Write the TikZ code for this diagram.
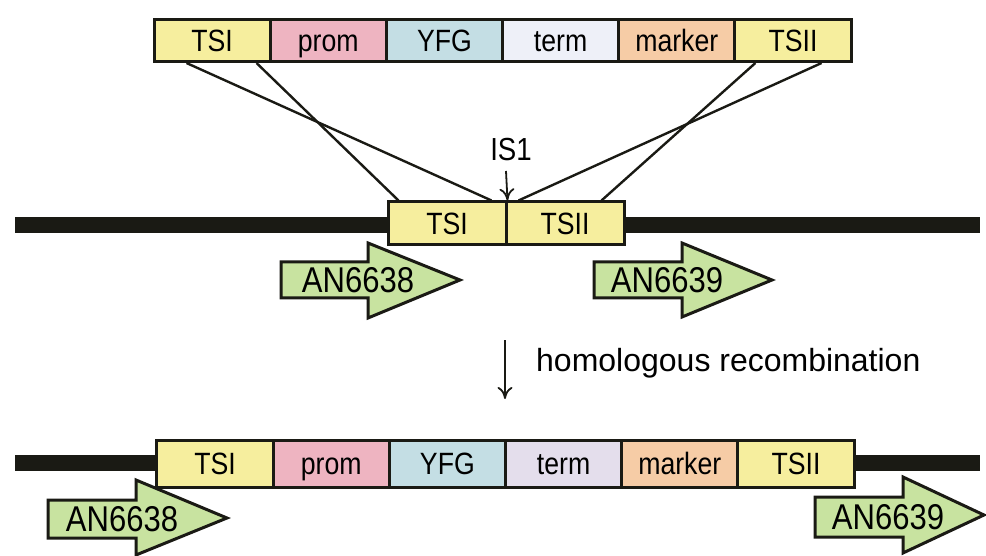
\documentclass[tikz,border=0pt]{standalone}
\usepackage{fontspec}
\usepackage{graphicx}
\setmainfont{Liberation Sans}
\usetikzlibrary{calc,arrows.meta}

\definecolor{tsicol}{HTML}{F6EE9E}
\definecolor{promcol}{HTML}{EEB4C1}
\definecolor{yfgcol}{HTML}{C4DEE4}
\definecolor{termcol}{HTML}{EEF0F8}
\definecolor{termcolb}{HTML}{E4DEEC}
\definecolor{markcol}{HTML}{F6CCA6}
\definecolor{genecol}{HTML}{C8E3A0}
\definecolor{dnacol}{HTML}{1A1A14}

% slightly tall lettering
\newcommand{\tall}[1]{\scalebox{0.97}[1.12]{#1}}

\tikzset{
  seg/.style={draw=dnacol, line width=3pt, minimum width=116.2pt, minimum height=42pt,
              inner sep=0pt, text height=22pt, text depth=0pt,
              font=\fontsize{27.5}{27.5}\selectfont},
  gene/.style={draw=dnacol, fill=genecol, line width=3pt, line join=miter},
  genetext/.style={font=\fontsize{32}{32}\selectfont, inner sep=0pt, text height=25pt, text depth=0pt},
  dna/.style={fill=dnacol},
  cross/.style={draw=dnacol, line width=2.4pt},
  pointer/.style={draw=dnacol, line width=1.8pt, -{To[length=12pt,width=15pt]}},
}

\begin{document}
\begin{tikzpicture}[x=1pt, y=-1pt]
\useasboundingbox (0,0) rectangle (986,556);

% ---- insertion cassette ----
\node[seg, fill=tsicol]  (t1) at (212.1,40.5) {\tall{TSI}};
\node[seg, fill=promcol] (t2) at (328.3,40.5) {\tall{prom}};
\node[seg, fill=yfgcol]  (t3) at (444.5,40.5) {\tall{YFG}};
\node[seg, fill=termcol] (t4) at (560.6,40.5) {\tall{term}};
\node[seg, fill=markcol] (t5) at (676.8,40.5) {\tall{marker}};
\node[seg, fill=tsicol]  (t6) at (793.0,40.5) {\tall{TSII}};

% ---- target locus ----
\fill[dna] (15,217) rectangle (980,233);
\node[seg, fill=tsicol, minimum width=118pt, minimum height=43pt] (m1) at (447,223.5) {\tall{TSI}};
\node[seg, fill=tsicol, minimum width=118pt, minimum height=43pt] (m2) at (565,223.5) {\tall{TSII}};

% crossover lines between cassette and locus
\draw[cross] ([xshift=34pt]t1.south west) -- ([xshift=-16pt]m1.north east);
\draw[cross] ([xshift=104pt]t1.south west) -- ([xshift=12pt]m1.north west);
\draw[cross] ([xshift=22pt]t6.south west) -- ([xshift=-24pt]m2.north east);
\draw[cross] ([xshift=-31pt]t6.south east) -- ([xshift=14pt]m2.north west);

% insertion site
\node[font=\fontsize{28.5}{28.5}\selectfont, inner sep=0pt] (is1) at (511,150) {\tall{IS1}};
\coordinate (istop) at (506,171);
\draw[pointer] (istop) -- (m1.north east);

% genes flanking the locus
\draw[gene] (281,262) -- (368,262) -- (368,243) -- (460,280) -- (368,318) -- (368,298) -- (281,298) -- cycle;
\node[genetext] (g1) at (358,280) {\tall{AN6638}};
\draw[gene] (594,262) -- (682,262) -- (682,243) -- (772,280) -- (682,317) -- (682,298) -- (594,298) -- cycle;
\node[genetext] (g2) at (667,280) {\tall{AN6639}};

% recombination step
\coordinate (hrtop) at (505,340);
\coordinate (hrbot) at (505,399);
\draw[pointer] (hrtop) -- (hrbot);
\node[font=\fontsize{32}{32}\selectfont, anchor=west, inner sep=0pt] (hr) at (536,363) {homologous recombination};

% ---- recombined locus ----
\fill[dna] (15,455) rectangle (980,471);
\node[seg, fill=tsicol,   minimum height=47pt] (b1) at (215,463.5) {\tall{TSI}};
\node[seg, fill=promcol,  minimum height=47pt] (b2) at (331.2,463.5) {\tall{prom}};
\node[seg, fill=yfgcol,   minimum height=47pt] (b3) at (447.4,463.5) {\tall{YFG}};
\node[seg, fill=termcolb, minimum height=47pt] (b4) at (563.6,463.5) {\tall{term}};
\node[seg, fill=markcol,  minimum height=47pt] (b5) at (679.8,463.5) {\tall{marker}};
\node[seg, fill=tsicol,   minimum height=47pt] (b6) at (796.0,463.5) {\tall{TSII}};

\draw[gene] (48,500) -- (136,500) -- (136,480) -- (227,518) -- (136,555) -- (136,538) -- (48,538) -- cycle;
\node[genetext] (g3) at (122,519) {\tall{AN6638}};
\draw[gene] (815,497) -- (903,497) -- (903,477) -- (984,515) -- (903,553) -- (903,537) -- (815,537) -- cycle;
\node[genetext] (g4) at (888,517) {\tall{AN6639}};
\end{tikzpicture}
\end{document}
